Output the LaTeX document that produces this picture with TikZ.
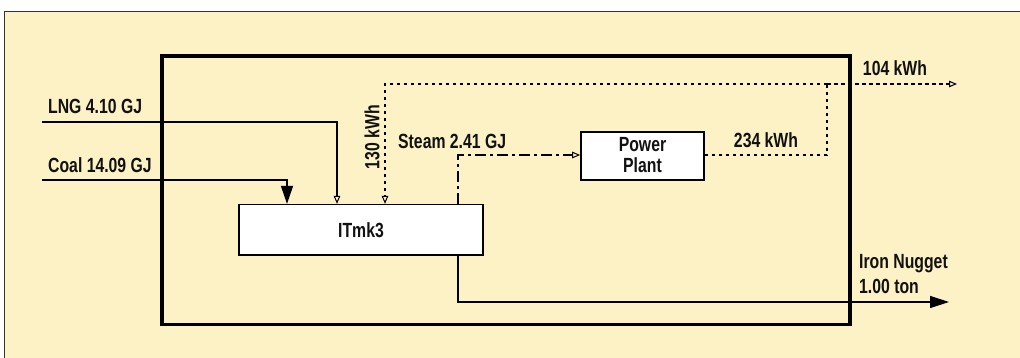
\documentclass[tikz,border=0pt]{standalone}
\usepackage{fontspec}
\newfontfamily\lab[FakeStretch=0.77]{Liberation Sans Bold}
\usetikzlibrary{arrows.meta}
\definecolor{cream}{RGB}{253,241,198}
\definecolor{ink}{RGB}{17,17,17}
\tikzset{
  lbl/.style={font=\lab\fontsize{20.5}{21}\selectfont, text=ink, inner sep=0pt},
  procbox/.style={draw=black, line width=1.6pt, fill=white, inner sep=0pt},
  flow/.style={line width=1.3pt, draw=black},
  dotline/.style={flow, dash pattern=on 3.5pt off 3.5pt},
  dashdotline/.style={flow, dash pattern=on 11pt off 4pt on 3pt off 4pt},
  openarr/.style={-{Triangle[open,length=8pt,width=6.5pt,line width=1pt]}},
  bigarr/.style={-{Triangle[length=18pt,width=12pt]}},
  midarr/.style={-{Triangle[length=19pt,width=12pt]}}
}
\begin{document}
\begin{tikzpicture}[x=1pt,y=-1pt]
\useasboundingbox (0,0) rectangle (1020,358);
\clip (0,0) rectangle (1020,358);
% background panel
\fill[white] (0,0) rectangle (1020,358);
\filldraw[fill=cream, draw=black!80, line width=1pt] (4,12) rectangle (1030,370);
% system boundary
\draw[line width=3.2pt] (162,56) rectangle (850,324.5);
% process boxes
\node[procbox, minimum width=244pt, minimum height=50pt] (itmk) at (361,229.7) {};
\node[lbl] (itmklab) at (361,230) {ITmk3};
\node[procbox, minimum width=123pt, minimum height=48pt] (pp) at (642.5,156) {};
\node[lbl, align=center] (pplab) at (642.5,155) {Power\\Plant};
% coordinates
\coordinate (lngin) at (42,122);
\coordinate (lngdrop) at (337,122);
\coordinate (coalin) at (42,180);
\coordinate (coaldrop) at (287,180);
\coordinate (drop130) at (385,84);
\coordinate (split) at (827,84);
\coordinate (kwhout) at (957,84);
\coordinate (steamx) at (458,155);
\coordinate (ironout) at (949,302);
% flows
\draw[flow, openarr] (lngin) -| (itmk.north -| lngdrop);
\draw[flow, bigarr] (coalin) -| (itmk.north -| coaldrop);
\draw[dotline] (pp.east |- steamx) -| (split);
\draw[dotline, openarr] (split) -- (kwhout);
\draw[dotline, openarr] (split) -| (itmk.north -| drop130);
\draw[dashdotline, openarr] (itmk.north -| steamx) |- (pp.west |- steamx);
\draw[flow, midarr] (itmk.south -| steamx) |- (ironout);
% labels
\node[lbl, anchor=west] (lnglab) at (48,106) {LNG 4.10 GJ};
\node[lbl, anchor=west] (coallab) at (48,165) {Coal 14.09 GJ};
\node[lbl, anchor=west] (steamlab) at (398,141) {Steam 2.41 GJ};
\node[lbl, rotate=90] (lab130) at (372,137) {130 kWh};
\node[lbl] (lab234) at (766,140.5) {234 kWh};
\node[lbl] (lab104) at (895,68) {104 kWh};
\node[lbl, anchor=north west, align=left, font=\lab\fontsize{20.5}{25}\selectfont] (ironlab) at (859,254) {Iron Nugget\\1.00 ton};
\end{tikzpicture}
\end{document}
